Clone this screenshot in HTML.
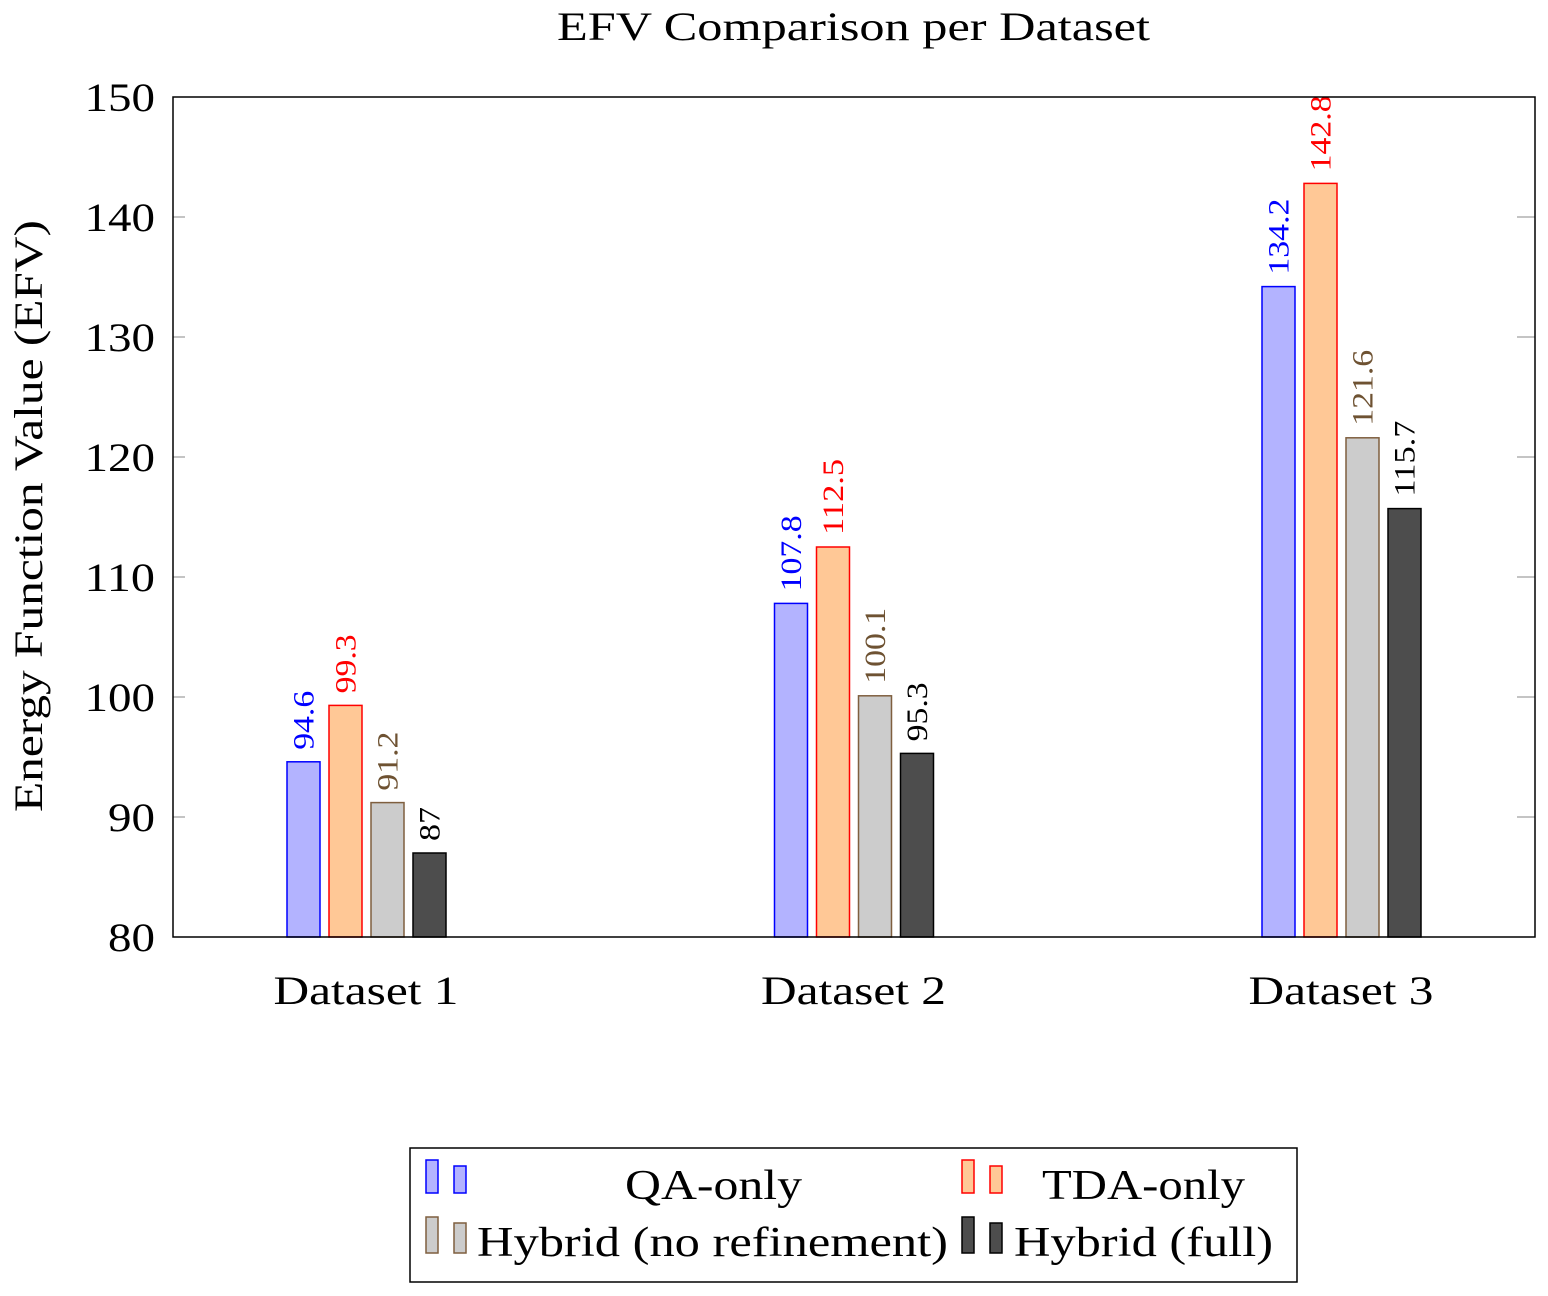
<!DOCTYPE html>
<html><head><meta charset="utf-8"><style>
body{margin:0;background:#fff;}
svg text{font-family:"Liberation Serif",serif;}
</style></head><body>
<svg width="1548" height="1291" xmlns="http://www.w3.org/2000/svg">
<text x="557" y="40" font-size="40" textLength="593" lengthAdjust="spacingAndGlyphs">EFV Comparison per Dataset</text>
<text transform="translate(42,812) rotate(-90)" font-size="40" textLength="592" lengthAdjust="spacingAndGlyphs">Energy Function Value (EFV)</text>
<g id="ticks"></g>
<g id="bars"></g>
<rect x="173" y="97" width="1362" height="840" fill="none" stroke="#000" stroke-width="1.5"/>
<g>
<rect x="410" y="1148" width="887" height="134" fill="#fff" stroke="#000" stroke-width="1.5"/>
<g>
<rect x="426" y="1160" width="12" height="33" fill="#b3b3ff" stroke="blue" stroke-width="1.5"/><rect x="454" y="1166" width="12" height="27" fill="#b3b3ff" stroke="blue" stroke-width="1.5"/>
<text x="625" y="1199" font-size="42" textLength="177" lengthAdjust="spacingAndGlyphs">QA-only</text></g>
<g>
<rect x="962" y="1160" width="12" height="33" fill="#ffc896" stroke="red" stroke-width="1.5"/><rect x="990" y="1166" width="12" height="27" fill="#ffc896" stroke="red" stroke-width="1.5"/>
<text x="1042" y="1199" font-size="42" textLength="203" lengthAdjust="spacingAndGlyphs">TDA-only</text></g>
<g>
<rect x="426" y="1217" width="12" height="36" fill="#ccc" stroke="#7f5f3f" stroke-width="1.5"/><rect x="454" y="1223" width="12" height="30" fill="#ccc" stroke="#7f5f3f" stroke-width="1.5"/>
<text x="477" y="1256" font-size="42" textLength="471" lengthAdjust="spacingAndGlyphs">Hybrid (no refinement)</text></g>
<g>
<rect x="962" y="1217" width="12" height="36" fill="#4d4d4d" stroke="#000" stroke-width="1.5"/><rect x="990" y="1223" width="12" height="30" fill="#4d4d4d" stroke="#000" stroke-width="1.5"/>
<text x="1014" y="1256" font-size="42" textLength="259" lengthAdjust="spacingAndGlyphs">Hybrid (full)</text></g>
</g>
</svg>
<script>
const categories=["Dataset 1","Dataset 2","Dataset 3"];
const seriesNames=["QA-only","TDA-only","Hybrid (no refinement)","Hybrid (full)"];
const qaOnly=[94.6,107.8,134.2];
const tdaOnly=[99.3,112.5,142.8];
const hybridNoRef=[91.2,100.1,121.6];
const hybridFull=[87,95.3,115.7];
const yTicks=[80,90,100,110,120,130,140,150];
const series=[qaOnly,tdaOnly,hybridNoRef,hybridFull];
const fills=["#b3b3ff","#ffc896","#cccccc","#4d4d4d"];
const strokes=["blue","red","#7f5f3f","#000"];
const labelColors=["blue","red","#6e5232","#000"];
const NS="http://www.w3.org/2000/svg";
const yMin=80,yMax=150,yTop=97,yBot=937,xLeft=173,xRight=1535;
const yScale=v=>yBot-(v-yMin)/(yMax-yMin)*(yBot-yTop);
const xc=i=>366+i*487.5;
const tg=document.getElementById('ticks');
yTicks.forEach(t=>{
 const l=document.createElementNS(NS,'text');
 l.setAttribute('x',155);l.setAttribute('y',yScale(t)+14);l.setAttribute('font-size','40');l.setAttribute('text-anchor','end');
 l.setAttribute('textLength',String(t).length*23.5);l.setAttribute('lengthAdjust','spacingAndGlyphs');
 l.textContent=t;
 
 
 tg.appendChild(l);
 [[xLeft,xLeft+12],[xRight-18,xRight]].forEach(([a,b])=>{
  const m=document.createElementNS(NS,'line');
  m.setAttribute('x1',a);m.setAttribute('x2',b);m.setAttribute('y1',yScale(t));m.setAttribute('y2',yScale(t));m.setAttribute('stroke','#888');
  
  
  tg.appendChild(m);
 });
});
categories.forEach((c,i)=>{
 const l=document.createElementNS(NS,'text');
 l.setAttribute('x',xc(i));l.setAttribute('y',1004);l.setAttribute('font-size','40');l.setAttribute('text-anchor','middle');
 l.setAttribute('textLength','185');l.setAttribute('lengthAdjust','spacingAndGlyphs');
 l.textContent=c;
 
 
 tg.appendChild(l);
});
const bg=document.getElementById('bars');
series.forEach((s,k)=>{
 s.forEach((v,i)=>{
  const cx=xc(i)+(k-1.5)*42+0.5;
  const r=document.createElementNS(NS,'rect');
  r.setAttribute('x',cx-16.5);r.setAttribute('width',33);r.setAttribute('y',yScale(v));r.setAttribute('height',yBot-yScale(v));
  r.setAttribute('fill',fills[k]);r.setAttribute('stroke',strokes[k]);r.setAttribute('stroke-width','1.5');
  
  
  bg.appendChild(r);
  const t=document.createElementNS(NS,'text');
  const str=String(v);
  t.setAttribute('transform',`translate(${cx+10},${yScale(v)-12}) rotate(-90)`);
  t.setAttribute('font-size','30');t.setAttribute('fill',labelColors[k]);
  t.setAttribute('textLength',str.replace('.','').length*17+(str.includes('.')?8:0));t.setAttribute('lengthAdjust','spacingAndGlyphs');
  t.textContent=str;
  
  
  bg.appendChild(t);
 });
});
</script>
</body></html>
